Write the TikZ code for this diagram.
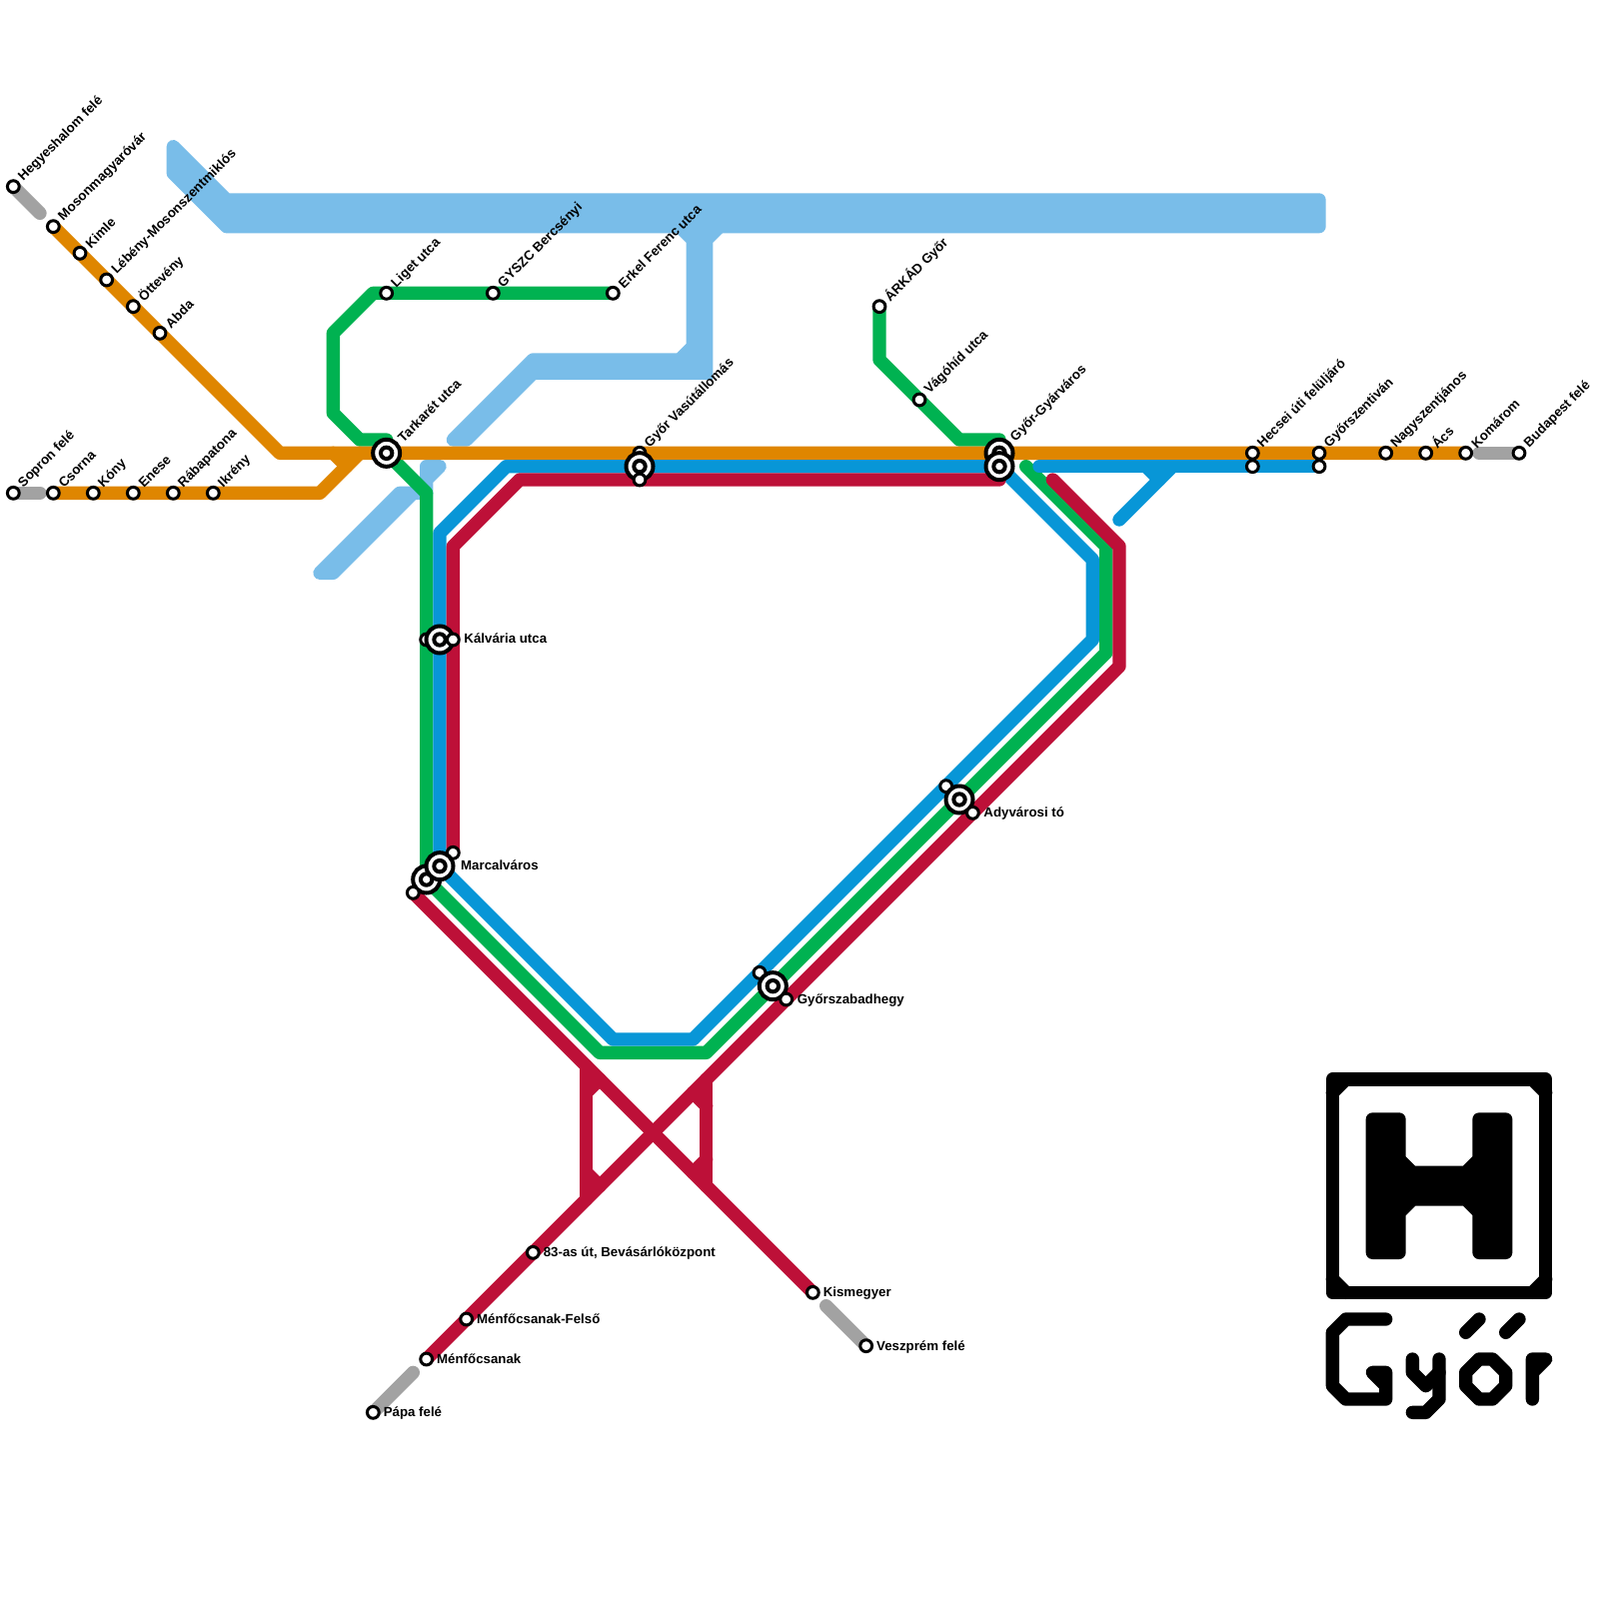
\documentclass[tikz,border=0pt]{standalone}
\usepackage{fontspec}
\usetikzlibrary{calc}
\setmainfont{Liberation Sans}
\definecolor{orangeL}{HTML}{DF8600}
\definecolor{greenL}{HTML}{00B251}
\definecolor{blueL}{HTML}{0896D7}
\definecolor{redL}{HTML}{BD1038}
\definecolor{waterL}{HTML}{79BDE9}
\definecolor{grayL}{HTML}{A2A2A2}
\tikzset{
  x=2mm,y=-2mm,
  metro/.style={line width=2mm,line cap=round,line join=round},
  water/.style={metro,draw=waterL,fill=waterL},
  ink/.style={metro,draw=black,fill=black},
  inkline/.style={metro,draw=black},
  smallst/.style={circle,draw=black,fill=white,line width=.45mm,minimum size=1.77mm,inner sep=0pt,outer sep=0pt},
  corest/.style={circle,draw=black,fill=white,line width=.6mm,minimum size=1.71mm,inner sep=0pt,outer sep=0pt},
  bigst/.style={circle,draw=black,fill=white,line width=.6mm,minimum size=4.05mm,inner sep=0pt,outer sep=0pt},
  lab/.style={font=\fontsize{5.67pt}{6.5pt}\selectfont\bfseries,inner sep=0pt,text=black},
  toplabel/.style={lab,xshift=1.1mm,yshift=1.1mm,rotate=45,anchor=west},
  sidelabel/.style={lab,anchor=west},
}
\begin{document}
\begin{tikzpicture}
\useasboundingbox[fill=white] (0,0) rectangle (120,120);
% stations
\foreach \n/\x/\y in {hegy/1/14,moson/4/17,kimle/6/19,lebeny/8/21,otte/10/23,abda/12/25,
  sopron/1/37,csorna/4/37,kony/7/37,enese/10/37,raba/13/37,ikreny/16/37,
  tark/29/34,liget/29/22,gyszc/37/22,erkel/46/22,arkad/66/23,vago/69/30,
  gyu/75/34,gyb/75/35,vasO/48/34,vasB/48/35,vasR/48/36,
  hecO/94/34,hecB/94/35,gyzO/99/34,gyzB/99/35,nagy/104/34,acs/107/34,kom/110/34,buda/114/34,
  kalG/32/48,kalB/33/48,kalR/34/48,marG/32/66,marB/33/65,marRa/34/64,marRb/31/67,
  adyB/71/59,adyG/72/60,adyR/73/61,szaB/57/73,szaG/58/74,szaR/59/75,
  ben/40/94,felso/35/99,menf/32/102,papa/28/106,kism/61/97,veszp/65/101,
  % bends
  oA/21/34,oB/24/37,oC/27/34,oD/25/34,oE/26/35,
  gA/28/22,gB/25/25,gC/25/31,gD/27/33,gE/29/33,gF/32/37,gG/45/79,gH/53/79,gI/83/49,gJ/83/41,gK/77/35,
  gL/66/27,gM/72/33,gN/75/33,
  bA/33/40,bB/38/35,bC/82/42,bD/82/48,bE/52/78,bF/46/78,bG/78/35,bH/84/39,bI/88/35,bJ/86/35,bK/87/36,
  rA/34/41,rB/39/36,rC/75/36,rD/79/36,rE/84/41,rF/84/50,
  xA/44/80,xB/44/90,xC/53/81,xD/53/89,xE/44/82,xF/45/81,xG/44/88,xH/45/89,xI/53/83,xJ/52/82,xK/53/87,xL/52/88,
  kgA/3/16,kgB/3/37,kgC/111/34,kgD/62/98,kgE/31/103}
  {\coordinate (\n) at (\x,\y);}
% water
\draw[water] (13,11)--(17,15)--(99,15)--(99,17)--(17,17)--(13,13)--cycle;
\draw[water] (51,17)--(52,18)--(52,26)--(51,27)--(40,27)--(34,33)--(35,33)--(40,28)--(53,28)--(53,18)--(54,17)--cycle;
\fill[waterL] (52.5,27.5) rectangle (53.5,28.5);
\draw[water] (24,43)--(30,37)--(32,37)--(32,35)--(33,35)--(25,43)--cycle;
% grey
\draw[metro,grayL] (hegy)--(kgA);
\draw[metro,grayL] (sopron)--(kgB);
\draw[metro,grayL] (kgC)--(buda);
\draw[metro,grayL] (kgD)--(veszp);
\draw[metro,grayL] (kgE)--(papa);
% green
\draw[metro,greenL] (erkel)--(gyszc)--(liget)--(gA)--(gB)--(gC)--(gD)--(gE)--(tark)--(gF)--(marG)--(gG)--(gH)--(gI)--(gJ)--(gK);
\draw[metro,greenL] (arkad)--(gL)--(vago)--(gM)--(gN)--(gyu);
% orange
\draw[metro,orangeL] (moson)--(abda)--(oA)--(tark)--(kom);
\draw[metro,orangeL] (csorna)--(oB)--(oC);
\draw[metro,orangeL] (oD)--(oE);
% blue
\draw[metro,blueL] (marB)--(bA)--(bB)--(gyb)--(bC)--(bD)--(bE)--(bF)--cycle;
\draw[metro,blueL] (bG)--(gyzB);
\draw[metro,blueL] (bH)--(bI);
\draw[metro,blueL] (bJ)--(bK);
% red
\draw[metro,redL] (marRa)--(rA)--(rB)--(rC);
\draw[metro,redL] (rD)--(rE)--(rF)--(menf);
\draw[metro,redL] (marRb)--(kism);
\draw[metro,redL] (xA)--(xB);
\draw[metro,redL] (xC)--(xD);
\draw[metro,redL] (xE)--(xF);
\draw[metro,redL] (xG)--(xH);
\draw[metro,redL] (xI)--(xJ);
\draw[metro,redL] (xK)--(xL);
% logo
\draw[inkline] (100,81) rectangle (116,97);
\draw[inkline] (100,82)--(101,81);
\draw[inkline] (115,81)--(116,82);
\draw[inkline] (100,96)--(101,97);
\draw[inkline] (115,97)--(116,96);
\draw[ink] (103,84)--(105,84)--(105,87)--(106,88)--(110,88)--(111,87)--(111,84)--(113,84)--(113,94)--(111,94)--(111,91)--(110,90)--(106,90)--(105,91)--(105,94)--(103,94)--cycle;
\draw[inkline] (104,99)--(101,99)--(100,100)--(100,104)--(101,105)--(104,105)--(104,103)--(103,103)--(104,104);
\draw[inkline] (106,102)--(106,103)--(107,104)--(108,103);
\draw[inkline] (108,102)--(108,105)--(107,106)--(106,106);
\draw[inkline] (111,102)--(112,102)--(113,103)--(113,104)--(112,105)--(111,105)--(110,104)--(110,103)--cycle;
\draw[inkline] (110,100)--(111,99);
\draw[inkline] (113,100)--(114,99);
\draw[inkline] (115,105)--(115,102)--(116,102)--(115,103);
% plain stations
\foreach \n in {hegy,moson,kimle,lebeny,otte,abda,sopron,csorna,kony,enese,raba,ikreny,
  liget,gyszc,erkel,arkad,vago,hecO,hecB,gyzO,gyzB,nagy,acs,kom,buda,ben,felso,menf,papa,kism,veszp}
  {\node[smallst] (st\n) at (\n) {};}
% interchanges
\node[bigst] (bgtark) at (tark) {}; \node[corest] (sttark) at (tark) {};
\node[bigst] (bggyu) at (gyu) {}; \node[corest] (stgyu) at (gyu) {};
\node[bigst] (bggyb) at (gyb) {}; \node[corest] (stgyb) at (gyb) {};
\node[smallst] (stvasO) at (vasO) {};
\node[bigst] (bgvas) at (vasB) {}; \node[corest] (stvasB) at (vasB) {};
\node[smallst] (stvasR) at (vasR) {};
\node[smallst] (stkalG) at (kalG) {};
\node[bigst] (bgkal) at (kalB) {}; \node[corest] (stkalB) at (kalB) {};
\node[smallst] (stkalR) at (kalR) {};
\node[bigst] (bgmarG) at (marG) {}; \node[corest] (stmarG) at (marG) {};
\node[smallst] (stmarRa) at (marRa) {};
\node[bigst] (bgmarB) at (marB) {}; \node[corest] (stmarB) at (marB) {};
\node[smallst] (stmarRb) at (marRb) {};
\node[smallst] (stadyB) at (adyB) {};
\node[bigst] (bgady) at (adyG) {}; \node[corest] (stadyG) at (adyG) {};
\node[smallst] (stadyR) at (adyR) {};
\node[smallst] (stszaB) at (szaB) {};
\node[bigst] (bgsza) at (szaG) {}; \node[corest] (stszaG) at (szaG) {};
\node[smallst] (stszaR) at (szaR) {};
% labels
\node[toplabel] (lhegy) at (hegy) {Hegyeshalom felé};
\node[toplabel] (lmoson) at (moson) {Mosonmagyaróvár};
\node[toplabel] (lkimle) at (kimle) {Kimle};
\node[toplabel] (llebeny) at (lebeny) {Lébény-Mosonszentmiklós};
\node[toplabel] (lotte) at (otte) {Öttevény};
\node[toplabel] (labda) at (abda) {Abda};
\node[toplabel] (lsopron) at (sopron) {Sopron felé};
\node[toplabel] (lcsorna) at (csorna) {Csorna};
\node[toplabel] (lkony) at (kony) {Kóny};
\node[toplabel] (lenese) at (enese) {Enese};
\node[toplabel] (lraba) at (raba) {Rábapatona};
\node[toplabel] (likreny) at (ikreny) {Ikrény};
\node[toplabel] (lliget) at (liget) {Liget utca};
\node[toplabel] (lgyszc) at (gyszc) {GYSZC Bercsényi};
\node[toplabel] (lerkel) at (erkel) {Erkel Ferenc utca};
\node[toplabel] (ltark) at ($(tark)+(.45,-.45)$) {Tarkarét utca};
\node[toplabel] (lvas) at (vasO) {Győr Vasútállomás};
\node[toplabel] (larkad) at (arkad) {ÁRKÁD Győr};
\node[toplabel] (lvago) at (vago) {Vágóhíd utca};
\node[toplabel] (lgyu) at ($(gyu)+(.45,-.45)$) {Győr-Gyárváros};
\node[toplabel] (lhec) at (hecO) {Hecsei úti felüljáró};
\node[toplabel] (lgyz) at (gyzO) {Győrszentiván};
\node[toplabel] (lnagy) at (nagy) {Nagyszentjános};
\node[toplabel] (lacs) at (acs) {Ács};
\node[toplabel] (lkom) at (kom) {Komárom};
\node[toplabel] (lbuda) at (buda) {Budapest felé};
\node[sidelabel] (lkal) at (34.8,47.9) {Kálvária utca};
\node[sidelabel] (lmar) at (34.55,64.9) {Marcalváros};
\node[sidelabel] (lady) at (73.8,61.05) {Adyvárosi tó};
\node[sidelabel] (lsza) at (59.8,75.1) {Győrszabadhegy};
\node[sidelabel] (lben) at (40.75,94.05) {83-as út, Bevásárlóközpont};
\node[sidelabel] (lfelso) at (35.75,99) {Ménfőcsanak-Felső};
\node[sidelabel] (lmenf) at (32.75,102) {Ménfőcsanak};
\node[sidelabel] (lpapa) at (28.75,106.05) {Pápa felé};
\node[sidelabel] (lkism) at (61.75,97.05) {Kismegyer};
\node[sidelabel] (lveszp) at (65.75,101.1) {Veszprém felé};
\end{tikzpicture}
\end{document}
